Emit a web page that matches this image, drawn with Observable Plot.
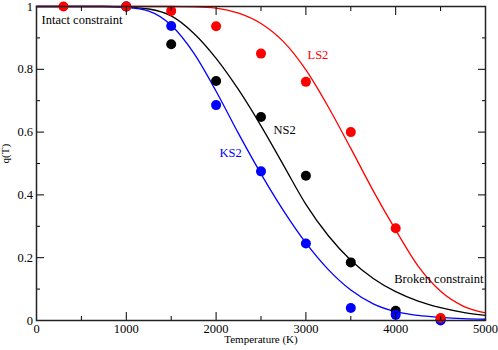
<!DOCTYPE html>
<html>
<head>
<meta charset="utf-8">
<script src="https://cdn.jsdelivr.net/npm/d3@7"></script>
<script src="https://cdn.jsdelivr.net/npm/@observablehq/plot@0.6"></script>
<style>
  html, body { margin: 0; padding: 0; background: #fff; }
</style>
</head>
<body>
<div id="chart"></div>
<script>
// Fitted curves, every 250 K
const curveT = [0,250,500,750,1000,1250,1500,1750,2000,2250,2500,2750,3000,3250,3500,3750,4000,4250,4500,4750,5000];
const ls2Curve = [1,1,1,1,1,1,1,0.999,0.995,0.979,0.946,0.888,0.798,0.68,0.548,0.413,0.288,0.173,0.093,0.046,0.024];
const ns2Curve = [1,1,1,1,0.998,0.992,0.97,0.915,0.835,0.735,0.62,0.495,0.37,0.27,0.192,0.134,0.092,0.062,0.041,0.026,0.016];
const ks2Curve = [1,1,1,1,0.997,0.985,0.94,0.852,0.73,0.595,0.467,0.35,0.247,0.162,0.097,0.053,0.028,0.016,0.01,0.006,0.004];

// Simulation points
const ns2T = [1000,1500,2000,2500,3000,3500,4000,4500];
const ns2Q = [1.0,0.88,0.763,0.648,0.461,0.185,0.031,0.003];
const ks2T = [1000,1500,2000,2500,3000,3500,4000,4500];
const ks2Q = [1.0,0.938,0.686,0.475,0.245,0.04,0.018,0.0];
const ls2T = [300,1000,1500,2000,2500,3000,3500,4000,4500];
const ls2Q = [1.0,1.0,0.986,0.937,0.85,0.76,0.60,0.294,0.008];

// Axis ticks
const xMajor = [0,1000,2000,3000,4000,5000];
const xMinor = [500,1500,2500,3500,4500];
const xTickLabels = ["0","1000","2000","3000","4000","5000"];
const yMajor = [0,0.2,0.4,0.6,0.8,1];
const yMinor = [0.1,0.3,0.5,0.7,0.9];
const yTickLabels = ["0","0.2","0.4","0.6","0.8","1"];

// Annotations
const annoText = ["Intact constraint","LS2","NS2","KS2","Broken constraint"];
const annoT = [56,3018,2639,2038,3983];
const annoQ = [0.957,0.845,0.606,0.532,0.131];
const annoColor = ["black","red","black","blue","black"];

const curves = [
  {name:"NS2", values: ns2Curve},
  {name:"KS2", values: ks2Curve},
  {name:"LS2", values: ls2Curve}
];
const curveRows = curves.flatMap(c => curveT.map((t,i) => ({T:t, q:c.values[i], s:c.name})));
const pts = (T, Q, s) => T.map((t,i) => ({T:t, q:Q[i], s}));
const ns2Pts = pts(ns2T, ns2Q, "NS2");
const ks2Pts = pts(ks2T, ks2Q, "KS2");
const ls2Pts = pts(ls2T, ls2Q, "LS2");
const annos = annoText.map((t,i) => ({text:t, T:annoT[i], q:annoQ[i], c:annoColor[i]}));

const xLab = new Map(xMajor.map((v,i)=>[v,xTickLabels[i]]));
const yLab = new Map(yMajor.map((v,i)=>[v,yTickLabels[i]]));
const blank = () => "";
const serif = "Liberation Serif";

const chart = Plot.plot({
  width: 498,
  height: 350,
  marginLeft: 36,
  marginRight: 13,
  marginTop: 6,
  marginBottom: 30,
  style: {fontFamily: serif, fontSize: "13px", background: "white", overflow: "visible"},
  x: {domain: [0,5000], axis: null},
  y: {domain: [0,1], axis: null},
  color: {domain: ["NS2","KS2","LS2"], range: ["black","blue","red"]},
  marks: [
    Plot.line(curveRows, {x:"T", y:"q", z:"s", stroke:"s", strokeWidth:1.3, curve:"monotone-x"}),
    Plot.dot(ns2Pts, {x:"T", y:"q", fill:"black", r:5}),
    Plot.dot(ks2Pts, {x:"T", y:"q", fill:"blue", r:5}),
    Plot.dot(ls2Pts, {x:"T", y:"q", fill:"red", r:5}),
    Plot.text(annos, {x:"T", y:"q", text:"text", fill:"c", textAnchor:"start", fontSize:"12.5px", fontFamily:serif}),
    Plot.axisX({anchor:"bottom", ticks:xMajor, tickSize:-8, tickPadding:12, tickFormat:d=>xLab.get(d), label:null, fontSize:"12.5px", fontFamily:serif, fill:"black"}),
    Plot.axisX({anchor:"bottom", ticks:xMinor, tickSize:-4, tickFormat:blank, label:null}),
    Plot.axisX({anchor:"top", ticks:xMajor, tickSize:-8, tickFormat:blank, label:null}),
    Plot.axisX({anchor:"top", ticks:xMinor, tickSize:-4, tickFormat:blank, label:null}),
    Plot.axisY({anchor:"left", ticks:yMajor, tickSize:-8, tickPadding:11.5, tickFormat:d=>yLab.get(d), label:null, fontSize:"12.5px", fontFamily:serif, fill:"black"}),
    Plot.axisY({anchor:"left", ticks:yMinor, tickSize:-4, tickFormat:blank, label:null}),
    Plot.axisY({anchor:"right", ticks:yMajor, tickSize:-8, tickFormat:blank, label:null}),
    Plot.axisY({anchor:"right", ticks:yMinor, tickSize:-4, tickFormat:blank, label:null}),
    Plot.frame({stroke:"#222", strokeWidth:1.5}),
    Plot.text(["Temperature (K)"], {frameAnchor:"bottom", dy:22.5, fontSize:"11px", fontFamily:serif, fill:"black"}),
    Plot.text(["q(T)"], {frameAnchor:"left", dx:-31.5, rotate:-90, fontSize:"11px", fontFamily:serif, fill:"black"})
  ]
});
document.getElementById("chart").appendChild(chart);
</script>
</body>
</html>
